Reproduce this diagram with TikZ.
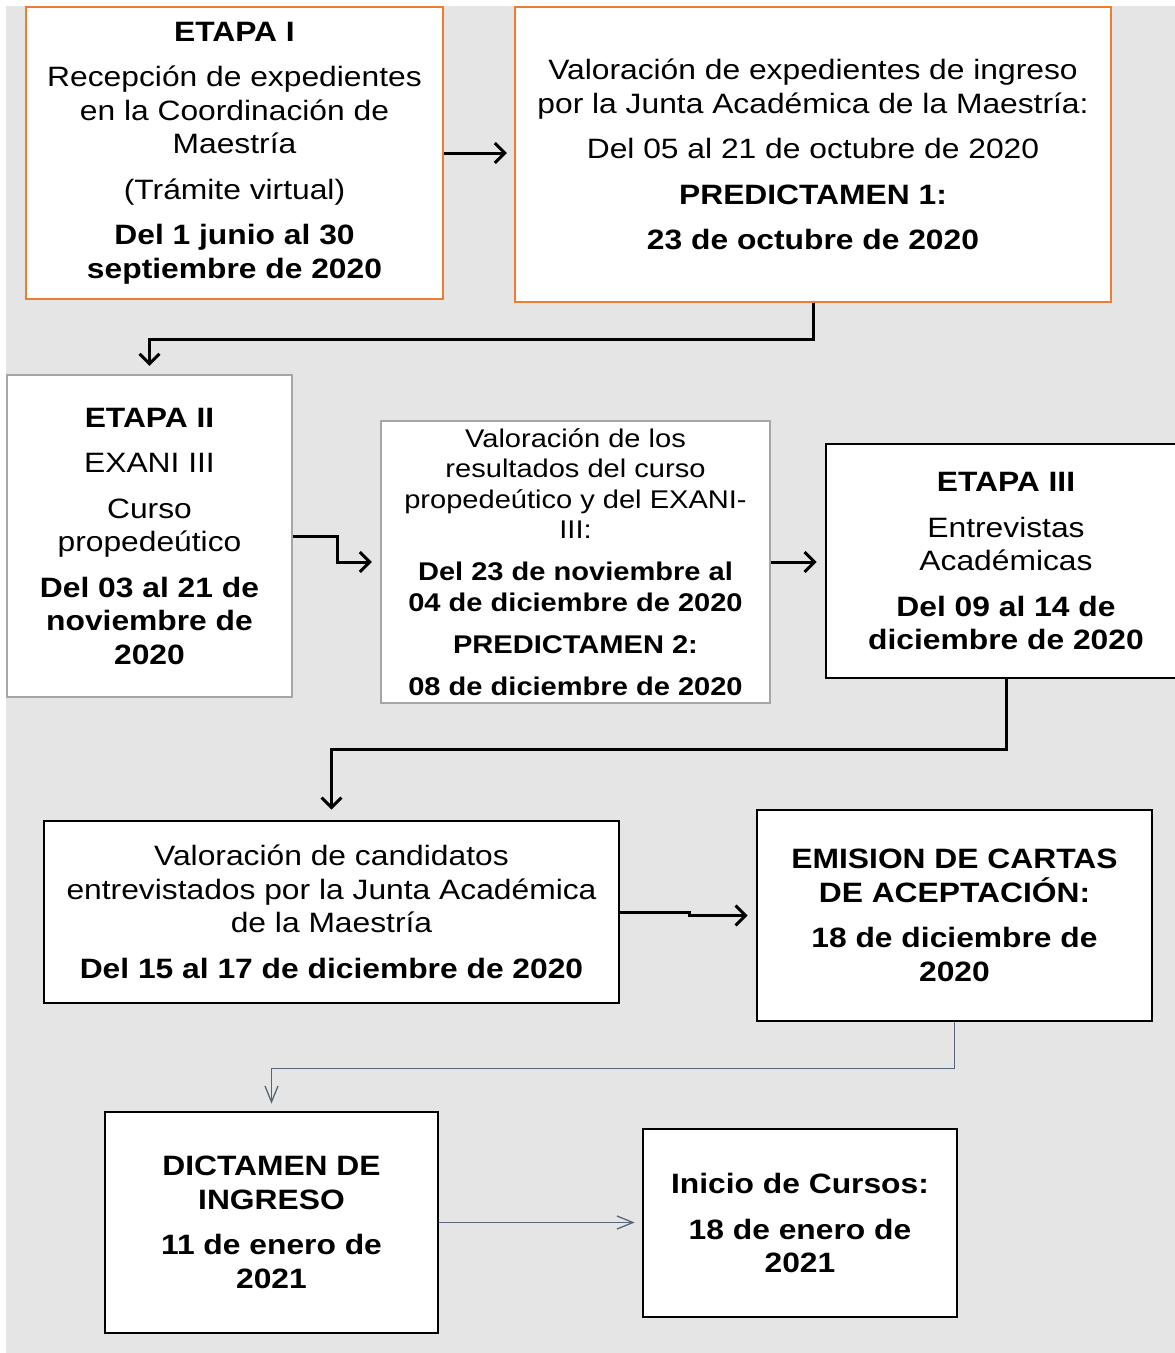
\documentclass[tikz,border=0pt]{standalone}
\usepackage{fontspec}
\setmainfont{Liberation Sans}[FakeStretch=1.135]
\usetikzlibrary{arrows.meta}
\definecolor{bg}{HTML}{E5E5E5}
\definecolor{org}{HTML}{ED7D31}
\definecolor{gbox}{HTML}{A6A6A6}
\definecolor{slate}{HTML}{56657A}
\begin{document}
\begin{tikzpicture}[x=1pt,y=-1pt,
  box/.style={draw, fill=white, line width=2.6pt, inner sep=0pt, align=center,
    font=\fontsize{28}{33.5}\selectfont},
  obox/.style={box, draw=org, line width=2.2pt},
  gbx/.style={box, draw=gbox, line width=2.2pt},
  kbox/.style={box, draw=black},
  smalltext/.style={font=\fontsize{25.6}{30.5}\selectfont},
  tarrow/.style={line width=3pt, -{Straight Barb[length=10pt,width=20pt]}},
  larrow/.style={draw=slate, line width=1.3pt, -{Straight Barb[length=16pt,width=13pt]}}]

\useasboundingbox (0,0) rectangle (1175,1353);
\fill[bg] (6,6) rectangle (1175,1353);

\node[obox, minimum width=417pt, minimum height=292pt] (b1) at (234.5,153)
  {\textbf{ETAPA I}\\[12pt]
   Recepción de expedientes\\ en la Coordinación de\\ Maestría\\[12pt]
   (Trámite virtual)\\[12pt]
   \textbf{Del 1 junio al 30}\\ \textbf{septiembre de 2020}};

\node[obox, minimum width=596pt, minimum height=295pt] (b2) at (813,154.5)
  {Valoración de expedientes de ingreso\\ por la Junta Académica de la Maestría:\\[12pt]
   Del 05 al 21 de octubre de 2020\\[12pt]
   \textbf{PREDICTAMEN 1:}\\[12pt]
   \textbf{23 de octubre de 2020}};

\node[gbx, minimum width=285pt, minimum height=322pt] (b3) at (149.5,536)
  {\textbf{ETAPA II}\\[12pt]
   EXANI III\\[12pt]
   Curso\\ propedeútico\\[12pt]
   \textbf{Del 03 al 21 de}\\ \textbf{noviembre de}\\ \textbf{2020}};

\node[gbx, smalltext, minimum width=389pt, minimum height=282pt] (b4) at (575.5,562)
  {Valoración de los\\ resultados del curso\\ propedeútico y del EXANI-\\ III:\\[11.5pt]
   \textbf{Del 23 de noviembre al}\\ \textbf{04 de diciembre de 2020}\\[11.5pt]
   \textbf{PREDICTAMEN 2:}\\[11.5pt]
   \textbf{08 de diciembre de 2020}};

\node[kbox, minimum width=360pt, minimum height=234pt] (b5) at (1006,561)
  {\textbf{ETAPA III}\\[12pt]
   Entrevistas\\ Académicas\\[12pt]
   \textbf{Del 09 al 14 de}\\ \textbf{diciembre de 2020}};

\node[kbox, minimum width=575pt, minimum height=182pt] (b6) at (331.5,912)
  {Valoración de candidatos\\ entrevistados por la Junta Académica\\ de la Maestría\\[12pt]
   \textbf{Del 15 al 17 de diciembre de 2020}};

\node[kbox, minimum width=395pt, minimum height=211pt] (b7) at (954.5,915.5)
  {\textbf{EMISION DE CARTAS}\\ \textbf{DE ACEPTACIÓN:}\\[12pt]
   \textbf{18 de diciembre de}\\ \textbf{2020}};

\node[kbox, minimum width=333pt, minimum height=221pt] (b8) at (271.5,1222.5)
  {\textbf{DICTAMEN DE}\\ \textbf{INGRESO}\\[12pt]
   \textbf{11 de enero de}\\ \textbf{2021}};

\node[kbox, minimum width=314pt, minimum height=188pt] (b9) at (800,1223)
  {\textbf{Inicio de Cursos:}\\[12pt]
   \textbf{18 de enero de}\\ \textbf{2021}};

\draw[tarrow, shorten >=7pt] (b1.east) -- (b1.east -| b2.west);
\draw[tarrow, shorten >=8pt] (b2.south) -- ++(0,36) -| (b3.north);
\draw[tarrow, shorten >=8pt] (b3.east) -- ++(44,0) |- (b4.west);
\draw[tarrow, shorten >=8pt] (b4.east) -- (b4.east -| b5.west);
\draw[tarrow, shorten >=10pt] (b5.south) -- ++(0,70) -| (b6.north);
\draw[tarrow, shorten >=8pt] (b6.east) -- ++(69,0) |- (b7.west);
\draw[larrow, shorten >=7pt] (b7.south) -- ++(0,46) -| (b8.north);
\draw[larrow, shorten >=7pt] (b8.east) -- (b8.east -| b9.west);
\end{tikzpicture}
\end{document}
